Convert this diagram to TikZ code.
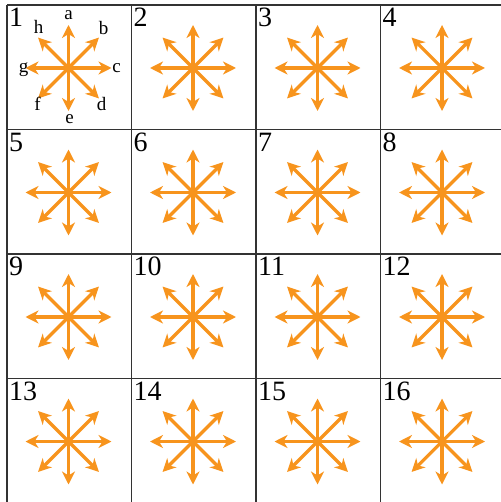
\documentclass[tikz,border=0pt]{standalone}
\usepackage{fontspec}
\setmainfont{Liberation Serif}
\usetikzlibrary{arrows.meta,calc}
\definecolor{rayorange}{HTML}{F7941D}
\begin{document}
\begin{tikzpicture}[x=1pt,y=-1pt,
  gridline/.style={draw=black!80, line width=1.2pt},
  ray/.style={draw=rayorange, line width=3.2pt,
              -{Stealth[length=13pt,width=13pt,inset=4pt]}},
  num/.style={anchor=north west, inner sep=0pt, font=\fontsize{28}{28}\selectfont},
  dirlabel/.style={inner sep=0pt, font=\fontsize{19}{19}\selectfont},
  ]
  \useasboundingbox (0,0) rectangle (500,502);
  % ---- grid ----------------------------------------------------------------
  \foreach \i in {0,...,4} {
    \draw[gridline] (7+124.5*\i,5) -- (7+124.5*\i,510);
    \draw[gridline] (7,5+124.5*\i) -- (510,5+124.5*\i);
  }
  % ---- cells: number and eight rays ----------------------------------------
  \foreach \r in {0,...,3} {
    \foreach \c in {0,...,3} {
      \pgfmathtruncatemacro{\n}{4*\r+\c+1}
      \node[num] (n\n) at (9+124.5*\c,8+124.5*\r) {\n};
      \coordinate (m\n) at (68.5+124.5*\c,68+124.5*\r);
      \foreach \ang in {0,45,...,315} {
        \coordinate (t\n-\ang) at ($(m\n)+(\ang:43)$);
        \draw[ray] (m\n) -- (t\n-\ang);
      }
    }
  }
  % ---- direction letters in the first cell ---------------------------------
  \node[dirlabel] (la) at ($(m1)+(0,-53)$)  {a};
  \node[dirlabel] (lb) at ($(m1)+(35,-40)$) {b};
  \node[dirlabel] (lc) at ($(m1)+(48,0)$)   {c};
  \node[dirlabel] (ld) at ($(m1)+(33,36)$)  {d};
  \node[dirlabel] (le) at ($(m1)+(1,51)$)   {e};
  \node[dirlabel] (lf) at ($(m1)+(-31,36)$) {f};
  \node[dirlabel] (lg) at ($(m1)+(-45,2)$)  {g};
  \node[dirlabel] (lh) at ($(m1)+(-30,-41)$) {h};
\end{tikzpicture}
\end{document}
